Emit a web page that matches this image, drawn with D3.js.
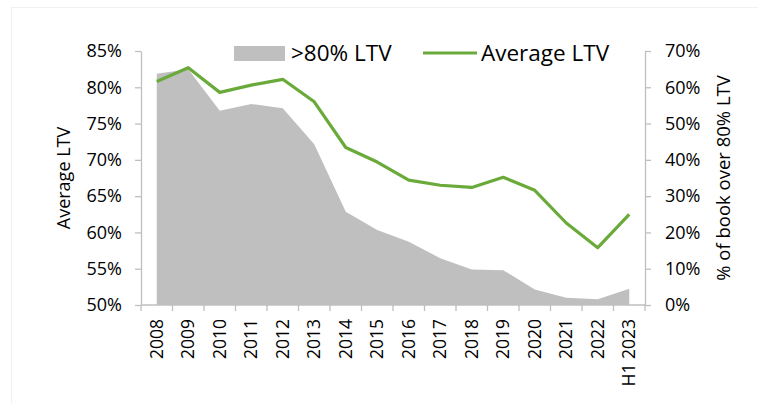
<!DOCTYPE html>
<html>
<head>
<meta charset="utf-8">
<script src="https://cdn.jsdelivr.net/npm/d3@7"></script>
<style>
  body { margin: 0; background: #fff; }
  text { font-family: "Open Sans", "Noto Sans", sans-serif; fill: #000; }
</style>
</head>
<body>
<div id="chart"></div>
<script>
// chart data
var years = ["2008", "2009", "2010", "2011", "2012", "2013", "2014", "2015",
  "2016", "2017", "2018", "2019", "2020", "2021", "2022", "H1 2023"];
var avgLtv = [80.8, 82.7, 79.3, 80.3, 81.1, 78.0, 71.7, 69.7,
  67.2, 66.5, 66.2, 67.6, 65.8, 61.3, 57.9, 62.5];
var over80 = [63.7, 65.0, 53.5, 55.4, 54.2, 44.3, 25.7, 20.7,
  17.4, 12.9, 9.8, 9.6, 4.3, 2.0, 1.6, 4.5];
var leftTicks = [50, 55, 60, 65, 70, 75, 80, 85];
var rightTicks = [0, 10, 20, 30, 40, 50, 60, 70];

var svgWidth = 758;
var svgHeight = 403;
var margin = { top: 51, right: 113, bottom: 98, left: 141 };
var width = svgWidth - margin.left - margin.right;
var height = svgHeight - margin.top - margin.bottom;

var svg = d3.select("#chart")
  .append("svg")
  .attr("width", svgWidth)
  .attr("height", svgHeight);

// faint frame
svg.append("rect")
  .attr("x", 11.5).attr("y", 7.5)
  .attr("width", 760).attr("height", 420)
  .attr("fill", "none")
  .attr("stroke", "#f0f0f0");

var chartGroup = svg.append("g")
  .attr("transform", `translate(${margin.left}, ${margin.top})`);

var x = d3.scaleBand().domain(years).range([0, width]);
var yLeft = d3.scaleLinear().domain([50, 85]).range([height, 0]);
var yRight = d3.scaleLinear().domain([0, 70]).range([height, 0]);
var cx = d => x(d) + x.bandwidth() / 2;

// area (right axis)
var area = d3.area()
  .x((d, i) => cx(years[i]))
  .y0(height)
  .y1(d => yRight(d));

chartGroup.append("path")
  .datum(over80)
  .attr("d", area)
  .attr("fill", "#bfbfbf");

// line (left axis)
var line = d3.line()
  .x((d, i) => cx(years[i]))
  .y(d => yLeft(d));

chartGroup.append("path")
  .datum(avgLtv)
  .attr("d", line)
  .attr("fill", "none")
  .attr("stroke", "#6aaa3a")
  .attr("stroke-width", 3.2)
  .attr("stroke-linejoin", "round");

// axes
var axisColor = "#bfbfbf";
function styleAxis(g) {
  g.select(".domain").attr("stroke", axisColor).attr("stroke-width", 1.3);
  g.selectAll(".tick line").attr("stroke", axisColor).attr("stroke-width", 1.3);
  g.selectAll(".tick text").attr("font-size", "18px").attr("fill", "#000");
}

var leftAxis = chartGroup.append("g")
  .call(d3.axisLeft(yLeft).tickValues(leftTicks).tickFormat(d => d + "%")
    .tickSizeInner(6).tickSizeOuter(0).tickPadding(13));
styleAxis(leftAxis);

var rightAxis = chartGroup.append("g")
  .attr("transform", `translate(${width}, 0)`)
  .call(d3.axisRight(yRight).tickValues(rightTicks).tickFormat(d => d + "%")
    .tickSizeInner(6).tickSizeOuter(0).tickPadding(14));
styleAxis(rightAxis);

// bottom axis: ticks at band boundaries
var bottom = chartGroup.append("g")
  .attr("transform", `translate(0, ${height})`);
bottom.append("line")
  .attr("x1", 0).attr("x2", width)
  .attr("stroke", axisColor).attr("stroke-width", 1.3);
bottom.selectAll(".bt")
  .data(years.concat(["end"]))
  .enter().append("line")
  .attr("x1", (d, i) => i * x.bandwidth())
  .attr("x2", (d, i) => i * x.bandwidth())
  .attr("y1", 0).attr("y2", 6)
  .attr("stroke", axisColor).attr("stroke-width", 1.3);
bottom.selectAll(".yl")
  .data(years)
  .enter().append("text")
  .attr("transform", d => `translate(${cx(d) + 6}, 14) rotate(-90)`)
  .attr("text-anchor", "end")
  .attr("font-size", "17.5px")
  .text(d => d);

// axis titles
svg.append("text")
  .attr("transform", `translate(70, 178) rotate(-90)`)
  .attr("text-anchor", "middle")
  .attr("font-size", "18px")
  .text("Average LTV");

svg.append("text")
  .attr("transform", `translate(730, 178) rotate(-90)`)
  .attr("text-anchor", "middle")
  .attr("font-size", "18.5px")
  .text("% of book over 80% LTV");

// legend
var legend = svg.append("g");
legend.append("rect")
  .attr("x", 234).attr("y", 46)
  .attr("width", 51).attr("height", 15)
  .attr("fill", "#bfbfbf");
legend.append("text")
  .attr("x", 291).attr("y", 61)
  .attr("font-size", "22.5px")
  .text(">80% LTV");
legend.append("line")
  .attr("x1", 423).attr("x2", 477)
  .attr("y1", 53).attr("y2", 53)
  .attr("stroke", "#6aaa3a").attr("stroke-width", 3.2);
legend.append("text")
  .attr("x", 481).attr("y", 61)
  .attr("font-size", "22.5px")
  .text("Average LTV");
</script>
</body>
</html>
